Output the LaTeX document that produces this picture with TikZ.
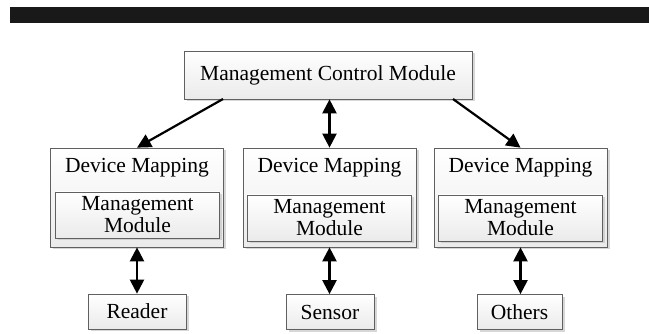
\documentclass[tikz,border=0pt]{standalone}
\usepackage{fontspec}
\setmainfont{Liberation Serif}
\usetikzlibrary{arrows.meta,positioning,shadows}

\begin{document}
\begin{tikzpicture}[x=1pt,y=-1pt,font=\fontsize{21.5}{23}\selectfont,
    >={Triangle[length=14pt,width=14pt]}]
    \tikzset{box/.style={draw=gray!75!black,line width=0.7pt,top color=white,
        bottom color=gray!16,inner sep=0pt,align=center,
        drop shadow={shadow xshift=2.5pt,shadow yshift=-2.5pt,fill=gray!45,opacity=0.7}},
      outer/.style={box,minimum width=173pt,minimum height=99pt},
      inner/.style={box,minimum width=164pt,minimum height=46pt,
        font=\fontsize{21.5}{22}\selectfont},
      leaf/.style={box,minimum height=35pt},
      link/.style={line width=2.2pt}}
    \useasboundingbox (0,0) rectangle (649,334);
    \fill[black!90] (10,7) rectangle (649,23);
    \node[box,minimum width=288pt,minimum height=48pt] (ctrl) at (328,75) {Management Control Module};
    % device mapping blocks
    \node[outer] (mapL) at (137,197.5) {};
    \node[outer] (mapM) at (329.5,197.5) {};
    \node[outer] (mapR) at (520.5,197.5) {};
    \node (dmL) at (137,168) {Device Mapping};
    \node (dmM) at (329.5,168) {Device Mapping};
    \node (dmR) at (520.5,168) {Device Mapping};
    \node[inner] (mmL) at (137.5,215) {Management\\Module};
    \node[inner] (mmM) at (329.5,218) {Management\\Module};
    \node[inner] (mmR) at (520.5,218) {Management\\Module};
    % devices
    \node[leaf,minimum width=98pt] (reader) at (137,311.5) {Reader};
    \node[leaf,minimum width=88pt] (sensor) at (330,312) {Sensor};
    \node[leaf,minimum width=85pt] (others) at (519.5,312) {Others};
    \coordinate (cL) at (223,99);
    \coordinate (cR) at (453,99);
    \draw[link,->] (cL) -- (mapL.north);
    \draw[link,<->] (ctrl.south -| mapM.north) -- (mapM.north);
    \draw[link,->] (cR) -- (mapR.north);
    \draw[link,<->] (mapL.south) -- (reader.north);
    \draw[link,<->] (mapM.south) -- (sensor.north -| mapM.south);
    \draw[link,<->] (mapR.south) -- (others.north -| mapR.south);
\end{tikzpicture}
\end{document}
